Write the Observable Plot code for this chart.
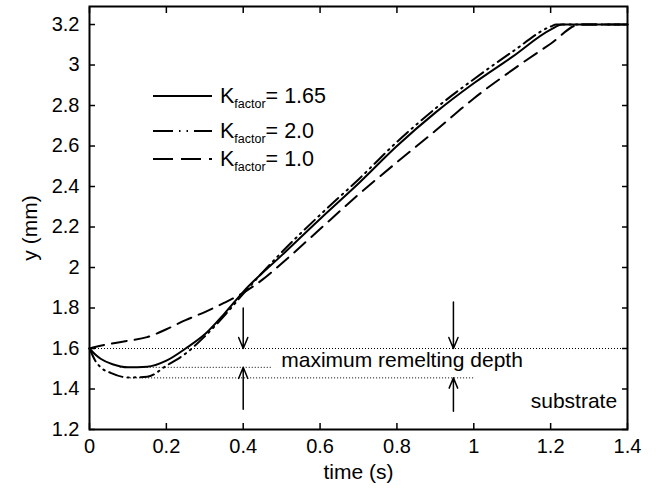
<!DOCTYPE html>
<html><head><meta charset="utf-8">
<script src="https://cdn.jsdelivr.net/npm/d3@7"></script>
<script src="https://cdn.jsdelivr.net/npm/@observablehq/plot@0.6"></script>
<style>
body{margin:0;background:#fff;font-family:"Liberation Sans",Arial,sans-serif;}
#wrap{position:relative;width:661px;height:491px;}
#legend{position:absolute;left:153px;top:0;}
.row{position:absolute;left:0;display:flex;align-items:center;white-space:nowrap;font-size:21.5px;color:#000;height:30px;line-height:30px;}
.row svg{margin-right:7px;display:block;}
.row sub{font-size:12.5px;vertical-align:-5px;line-height:0;}
</style></head><body><div id="wrap"></div>
<script>
// ---- data ----
const tSolid = [0,0.015,0.03,0.06,0.1,0.15,0.2,0.25,0.3,0.35,0.4,0.5,0.6,0.7,0.8,0.9,1.0,1.1,1.2,1.23,1.4];
const ySolid = [1.6,1.57,1.548,1.522,1.507,1.51,1.54,1.6,1.67,1.77,1.88,2.06,2.24,2.415,2.6,2.765,2.91,3.04,3.175,3.2,3.2];
const tDashDot = [0,0.015,0.03,0.055,0.1,0.15,0.2,0.25,0.3,0.35,0.4,0.5,0.6,0.7,0.8,0.9,1.0,1.1,1.2,1.215,1.4];
const yDashDot = [1.6,1.54,1.505,1.48,1.457,1.46,1.515,1.575,1.66,1.76,1.87,2.075,2.26,2.435,2.62,2.785,2.93,3.065,3.19,3.2,3.2];
const tDashed = [0,0.02,0.05,0.1,0.15,0.2,0.25,0.3,0.35,0.4,0.45,0.5,0.6,0.7,0.8,0.9,1.0,1.1,1.2,1.276,1.4];
const yDashed = [1.6,1.61,1.622,1.638,1.656,1.695,1.74,1.78,1.825,1.875,1.94,2.02,2.19,2.36,2.52,2.675,2.835,2.975,3.105,3.2,3.2];

const xTicks = [0,0.2,0.4,0.6,0.8,1,1.2,1.4];
const yTicks = [1.2,1.4,1.6,1.8,2,2.2,2.4,2.6,2.8,3,3.2];

const seriesNames = ["1.65","2.0","1.0"];

// reference lines (dotted): level, start, end
const levelY = [1.6, 1.507, 1.455];
const levelFrom = [0, 0.08, 0.107];
const levelTo = [1.4, 0.476, 1.0];

// arrows: time, from, to
const arrowT = [0.4, 0.4, 0.947, 0.947];
const arrowFrom = [1.80, 1.30, 1.83, 1.29];
const arrowTo = [1.6, 1.507, 1.6, 1.455];

// annotations
const noteDepth = [{t:0.499, y:1.54, label:"maximum remelting depth"}];
const noteSubstrate = [{t:1.373, y:1.34, label:"substrate"}];

// ---- build tables ----
const solid = tSolid.map((t,i)=>({t, y:ySolid[i]}));
const dashdot = tDashDot.map((t,i)=>({t, y:yDashDot[i]}));
const dashed = tDashed.map((t,i)=>({t, y:yDashed[i]}));
const levels = levelY.map((y,i)=>({y, x1:levelFrom[i], x2:levelTo[i]}));
const arrows = arrowT.map((t,i)=>({t, y1:arrowFrom[i], y2:arrowTo[i]}));

const styles = [
  {dash:null, legendDash:null},
  {dash:"14,5,1.5,5,1.5,5", legendDash:"20,6,1.5,6,1.5,6"},
  {dash:"15,8", legendDash:"20,8"}
];

const fmt = d => String(d);

const chart = Plot.plot({
  width:661, height:491,
  marginLeft:89, marginRight:34, marginTop:6, marginBottom:62,
  style:{fontFamily:"'Liberation Sans', Arial, sans-serif", fontSize:"20px", color:"black", background:"white", overflow:"visible"},
  x:{domain:[0,1.4]},
  y:{domain:[1.2,3.289]},
  marks:[
    Plot.ruleY(levels, {y:"y", x1:"x1", x2:"x2", strokeWidth:1, strokeDasharray:"1,2"}),
    Plot.line(dashed, {x:"t", y:"y", curve:"monotone-x", strokeWidth:2, strokeDasharray:styles[2].dash}),
    Plot.line(dashdot, {x:"t", y:"y", curve:"monotone-x", strokeWidth:2, strokeDasharray:styles[1].dash}),
    Plot.line(solid, {x:"t", y:"y", curve:"monotone-x", strokeWidth:2}),
    Plot.arrow(arrows, {x1:"t", x2:"t", y1:"y1", y2:"y2", headLength:12, headAngle:45, strokeWidth:1.5}),
    Plot.text(noteDepth, {x:"t", y:"y", text:"label", textAnchor:"start", lineAnchor:"middle", fontSize:21}),
    Plot.text(noteSubstrate, {x:"t", y:"y", text:"label", textAnchor:"end", lineAnchor:"middle", fontSize:21}),
    Plot.axisX(xTicks, {anchor:"bottom", tickSize:0, tickPadding:9, tickFormat:fmt, label:null}),
    Plot.axisX(xTicks, {anchor:"bottom", tickSize:-6, fill:"none", label:null, strokeWidth:1.5}),
    Plot.axisX(xTicks, {anchor:"top", tickSize:-6, fill:"none", label:null, strokeWidth:1.5}),
    Plot.axisY(yTicks, {anchor:"left", tickSize:0, tickPadding:10, tickFormat:fmt, label:null}),
    Plot.axisY(yTicks, {anchor:"left", tickSize:-6, fill:"none", label:null, strokeWidth:1.5}),
    Plot.axisY(yTicks, {anchor:"right", tickSize:-6, fill:"none", label:null, strokeWidth:1.5}),
    Plot.frame({strokeWidth:2}),
    Plot.text(["time (s)"], {frameAnchor:"bottom", dy:43, lineAnchor:"middle", textAnchor:"middle", fontSize:21}),
    Plot.text(["y (mm)"], {frameAnchor:"left", dx:-59, dy:10, rotate:-90, lineAnchor:"middle", textAnchor:"middle", fontSize:21})
  ]
});

const wrap = document.getElementById("wrap");
wrap.appendChild(chart);

// legend overlay
const legend = document.createElement("div");
legend.id = "legend";
const rowCenters = [96,131,159];
seriesNames.forEach((name,i)=>{
  const row = document.createElement("div");
  row.className = "row";
  row.style.top = (rowCenters[i]-15)+"px";
  const dash = styles[i].legendDash ? `stroke-dasharray="${styles[i].legendDash}"` : "";
  row.innerHTML = `<svg width="60" height="6"><line x1="0" y1="3" x2="59" y2="3" stroke="black" stroke-width="2" ${dash}/></svg><span>K<sub>factor</sub>= ${name}</span>`;
  legend.appendChild(row);
});
wrap.appendChild(legend);
</script>
</body></html>
